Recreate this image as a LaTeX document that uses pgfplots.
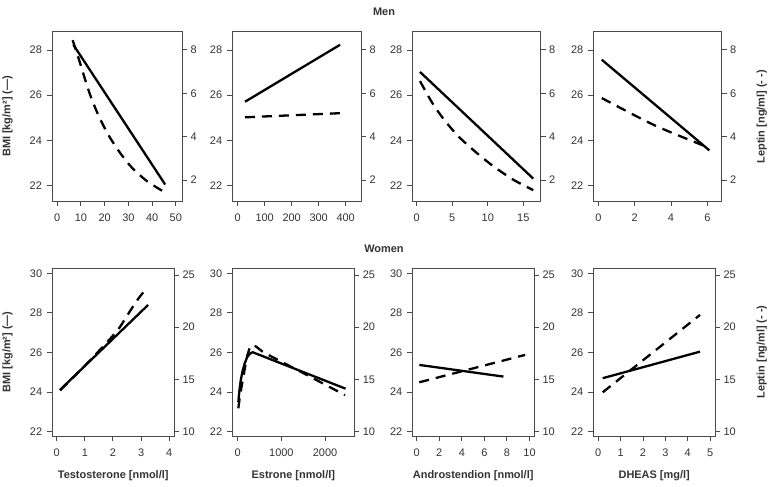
\documentclass[border=0pt]{standalone}
\usepackage{fontspec}
\setmainfont{Liberation Sans}
\usepackage{pgfplots}
\pgfplotsset{compat=1.18}
\definecolor{axgray}{HTML}{4A4A4A}
\definecolor{txtgray}{HTML}{333333}
\pgfplotsset{
  common/.style={scale only axis, anchor=south west,
    axis line style={draw=axgray, line width=0.9bp},
    tick style={draw=axgray, line width=0.9bp},
    tick align=outside, major tick length=5bp, minor tick num=0,
    ticklabel style={font=\fontsize{11}{13}\selectfont, text=txtgray},
    /pgf/number format/assume math mode=true,
    /pgf/number format/1000 sep={}, scaled ticks=false},
  bmi/.style={common, xtick pos=left, ytick pos=left,
    xticklabel style={yshift=-4.6bp}, yticklabel style={xshift=-1.6bp}},
  lep/.style={common, xtick=\empty, ytick pos=right, yticklabel pos=right},
  topbmi/.style={bmi, height=169.3bp, ymin=21.32, ymax=28.81, ytick={22,24,26,28}},
  toplep/.style={lep, height=169.3bp, ymin=1.03, ymax=8.84, ytick={2,4,6,8}},
  botbmi/.style={bmi, height=167.7bp, ymin=21.78, ymax=30.25, ytick={22,24,26,28,30}},
  botlep/.style={lep, height=167.7bp, ymin=9.59, ymax=25.64, ytick={10,15,20,25}},
  solidline/.style={black, line width=2.3bp},
  dashline/.style={black, line width=2.3bp, dash pattern=on 10bp off 7bp},
}
\begin{document}
\begin{tikzpicture}[x=1bp,y=1bp]
\useasboundingbox (0,0) rectangle (772,487);
\tikzset{lab/.style={font=\bfseries\fontsize{11}{13}\selectfont, text=txtgray}}
% ---------------- Men ----------------
% Testosterone
\begin{axis}[topbmi, at={(52bp,286bp)}, width=130bp, xmin=-2.2, xmax=52.6, xtick={0,10,20,30,40,50}]
\addplot[solidline] coordinates {(6.8,28.23) (45.5,22.05)};
\end{axis}
\begin{axis}[toplep, at={(52bp,286bp)}, width=130bp, xmin=-2.2, xmax=52.6]
\addplot[dashline, smooth] coordinates {(6.5,8.45) (8.9,7.65) (11.0,6.9) (13.8,5.95) (17.3,5.0) (21.5,4.09) (26.5,3.25) (31.4,2.58) (37.8,1.95) (45.5,1.42)};
\end{axis}
% Estrone
\begin{axis}[topbmi, at={(232.3bp,286bp)}, width=128.7bp, xmin=-20, xmax=456.7, xtick={0,100,200,300,400}]
\addplot[solidline] coordinates {(27,25.71) (379,28.23)};
\end{axis}
\begin{axis}[toplep, at={(232.3bp,286bp)}, width=128.7bp, xmin=-20, xmax=456.7]
\addplot[dashline] coordinates {(27,4.89) (379,5.08)};
\end{axis}
% Androstendion
\begin{axis}[topbmi, at={(412.3bp,286bp)}, width=128.4bp, xmin=-0.62, xmax=17.45, xtick={0,5,10,15}]
\addplot[solidline] coordinates {(0.46,27.03) (16.4,22.31)};
\end{axis}
\begin{axis}[toplep, at={(412.3bp,286bp)}, width=128.4bp, xmin=-0.62, xmax=17.45]
\addplot[dashline, smooth] coordinates {(0.46,6.56) (2.33,5.48) (4.22,4.63) (6.09,3.94) (8.44,3.25) (10.8,2.63) (13.6,2.01) (16.4,1.53)};
\end{axis}
% DHEAS
\begin{axis}[topbmi, at={(593.3bp,286bp)}, width=128.4bp, xmin=-0.275, xmax=6.79, xtick={0,2,4,6}]
\addplot[solidline] coordinates {(0.19,27.57) (6.11,23.56)};
\end{axis}
\begin{axis}[toplep, at={(593.3bp,286bp)}, width=128.4bp, xmin=-0.275, xmax=6.79]
\addplot[dashline, smooth] coordinates {(0.19,5.78) (3.1,4.52) (6.11,3.48)};
\end{axis}
% ---------------- Women ----------------
% Testosterone
\begin{axis}[botbmi, at={(52.3bp,51bp)}, width=121.7bp, xmin=-0.155, xmax=4.17, xtick={0,1,2,3,4}]
\addplot[solidline] coordinates {(0.12,24.11) (3.25,28.40)};
\end{axis}
\begin{axis}[botlep, at={(52.3bp,51bp)}, width=121.7bp, xmin=-0.155, xmax=4.17]
\addplot[dashline, smooth] coordinates {(0.12,13.95) (1.0,16.3) (2.1,19.5) (2.5,21.1) (2.88,22.65) (3.23,23.85)};
\end{axis}
% Estrone
\begin{axis}[botbmi, at={(232.3bp,51bp)}, width=122bp, xmin=-124, xmax=2670, xtick={0,1000,2000}]
\addplot[solidline] coordinates {(14,23.5) (40,24.1) (70,24.6) (110,25.05) (160,25.45) (220,25.78) (290,25.96) (343,26.01) (2470,24.17)};
\end{axis}
\begin{axis}[botlep, at={(232.3bp,51bp)}, width=122bp, xmin=-124, xmax=2670]
\addplot[dashline] coordinates {(14,12.24) (50,13.4) (100,14.6) (160,16.0) (220,17.3) (280,18.1) (343,18.3) (420,18.15) (586,17.6) (1466,15.69) (2457,13.5)};
\end{axis}
% Androstendion
\begin{axis}[botbmi, at={(412.3bp,51bp)}, width=121.7bp, xmin=-0.39, xmax=10.4, xtick={0,2,4,6,8,10}]
\addplot[solidline] coordinates {(0.23,25.37) (7.69,24.78)};
\end{axis}
\begin{axis}[botlep, at={(412.3bp,51bp)}, width=121.7bp, xmin=-0.39, xmax=10.4]
\addplot[dashline] coordinates {(0.23,14.73) (9.61,17.35)};
\end{axis}
% DHEAS
\begin{axis}[botbmi, at={(593.3bp,51bp)}, width=121.7bp, xmin=-0.22, xmax=5.22, xtick={0,1,2,3,4,5}]
\addplot[solidline] coordinates {(0.2,24.70) (4.55,26.04)};
\end{axis}
\begin{axis}[botlep, at={(593.3bp,51bp)}, width=121.7bp, xmin=-0.22, xmax=5.22]
\addplot[dashline] coordinates {(0.2,13.77) (4.55,21.18)};
\end{axis}
% ---------------- Labels ----------------
\node[lab] at (384,475) {Men};
\node[lab] at (384,238) {Women};
\node[lab, rotate=90] at (7.5,370.6) {BMI [kg/m²] (—)};
\node[lab, rotate=90] at (7.5,135) {BMI [kg/m²] (—)};
\node[lab, rotate=90] at (761.7,370.3) {Leptin [ng/ml] (- -)};
\node[lab, rotate=90] at (761.7,135) {Leptin [ng/ml] (- -)};
\node[lab] at (113.2,11.3) {Testosterone [nmol/l]};
\node[lab] at (293.3,11.3) {Estrone [nmol/l]};
\node[lab] at (473.2,11.3) {Androstendion [nmol/l]};
\node[lab] at (654.2,11.3) {DHEAS [mg/l]};
\end{tikzpicture}
\end{document}
